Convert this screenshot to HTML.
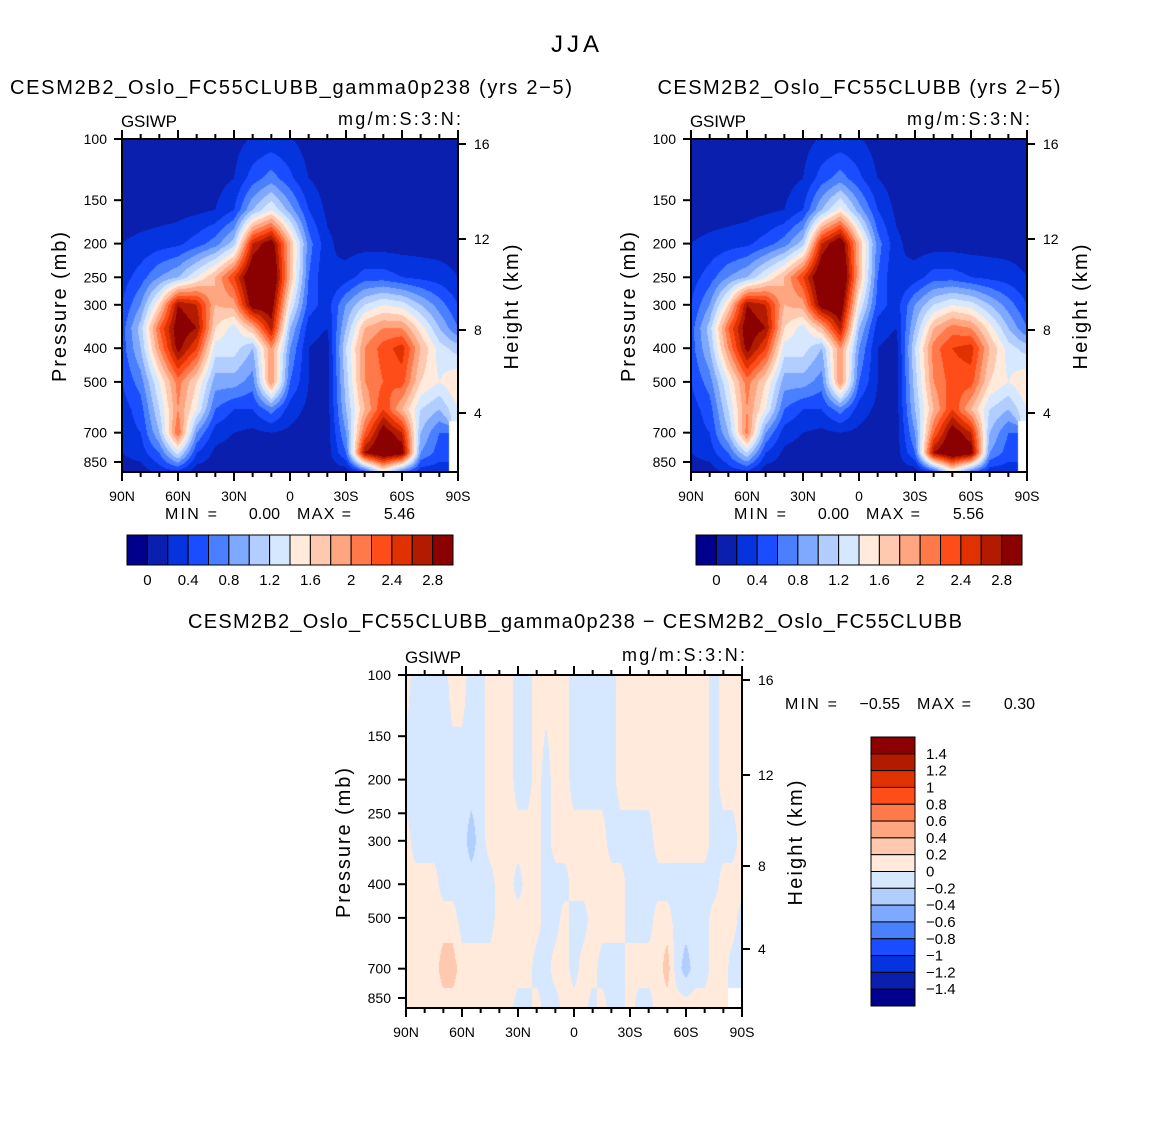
<!DOCTYPE html>
<html><head><meta charset="utf-8">
<style>
html,body{margin:0;padding:0;background:#fff;}
#root{position:relative;width:1150px;height:1148px;overflow:hidden;font-family:"Liberation Sans",sans-serif;}
canvas{position:absolute;}
svg{position:absolute;left:0;top:0;}
text{font-family:"Liberation Sans",sans-serif;fill:#000;}
</style></head>
<body>
<div id="root">
<canvas id="cA" width="336" height="333" style="left:122px;top:139px"></canvas>
<canvas id="cB" width="336" height="333" style="left:691px;top:139px"></canvas>
<canvas id="cD" width="336" height="333" style="left:406px;top:675px"></canvas>
<svg id="ov" width="1150" height="1148"></svg>
</div>
<script>
// ---- data ----
const lats = [90,80,70,60,50,40,30,20,10,0,-10,-20,-30,-40,-50,-60,-70,-80,-90];
const pLevels = [100,130,160,200,250,300,350,400,500,600,700,800,900];
const fieldA = [
[0.1,0.1,0.1,0.1,0.1,0.1,0.12,0.22,0.25,0.22,0.1,0.1,0.1,0.1,0.1,0.1,0.1,0.1,0.1],
[0.1,0.1,0.1,0.1,0.1,0.12,0.2,0.5,0.7,0.45,0.2,0.1,0.1,0.1,0.1,0.1,0.1,0.1,0.1],
[0.1,0.1,0.1,0.12,0.15,0.2,0.4,1.0,1.4,0.9,0.4,0.15,0.1,0.1,0.1,0.1,0.1,0.1,0.1],
[0.2,0.25,0.3,0.35,0.5,0.7,1.1,2.6,3.0,1.8,0.7,0.25,0.1,0.1,0.1,0.1,0.1,0.1,0.1],
[0.3,0.5,0.8,1.0,1.4,1.8,2.4,3.2,3.3,1.8,0.6,0.2,0.3,0.5,0.5,0.4,0.35,0.3,0.2],
[0.4,0.8,1.6,2.8,2.6,1.8,1.9,3.0,3.0,1.4,0.5,0.3,0.8,1.2,1.4,1.3,1.0,0.7,0.4],
[0.5,1.1,2.2,3.0,2.8,1.6,1.3,1.8,2.7,1.0,0.3,0.2,1.0,1.8,2.0,2.0,1.5,1.0,0.6],
[0.5,1.0,2.0,2.9,2.4,1.3,1.3,1.0,2.0,0.8,0.2,0.1,1.2,2.0,2.3,2.5,1.8,1.3,1.1],
[0.4,0.7,1.4,2.1,1.6,0.9,0.9,0.7,2.0,0.6,0.2,0.1,1.1,2.0,2.2,2.3,1.6,1.4,1.6],
[0.3,0.5,1.2,2.0,1.4,0.6,0.4,0.4,0.7,0.3,0.15,0.1,1.0,1.8,2.4,1.8,1.2,1.0,1.4],
[0.3,0.4,1.0,2.2,0.8,0.3,0.2,0.15,0.2,0.15,0.1,0.1,0.8,2.2,3.0,2.6,1.0,0.6,null],
[0.2,0.3,0.6,1.3,0.4,0.15,0.1,0.1,0.1,0.1,0.1,0.1,0.6,2.8,3.2,3.0,0.8,0.5,null],
[0.1,0.1,0.3,0.4,0.1,0.1,0.1,0.1,0.1,0.1,0.1,0.1,0.1,0.6,1.5,0.8,0.3,0.3,null]
];
const fieldB = [
[0.1,0.1,0.1,0.1,0.1,0.1,0.12,0.22,0.25,0.22,0.1,0.1,0.1,0.1,0.1,0.1,0.1,0.1,0.1],
[0.1,0.1,0.1,0.1,0.1,0.12,0.2,0.5,0.7,0.45,0.2,0.1,0.1,0.1,0.1,0.1,0.1,0.1,0.1],
[0.1,0.1,0.1,0.12,0.15,0.2,0.4,1.0,1.5,0.9,0.4,0.15,0.1,0.1,0.1,0.1,0.1,0.1,0.1],
[0.2,0.25,0.3,0.35,0.5,0.7,1.1,2.6,3.1,1.8,0.7,0.25,0.1,0.1,0.1,0.1,0.1,0.1,0.1],
[0.3,0.5,0.8,1.0,1.4,1.8,2.4,3.2,3.4,1.8,0.6,0.2,0.3,0.5,0.5,0.4,0.35,0.3,0.2],
[0.4,0.8,1.6,2.8,2.6,1.8,1.9,3.0,3.1,1.4,0.5,0.3,0.8,1.2,1.4,1.3,1.0,0.7,0.4],
[0.5,1.1,2.2,3.0,2.8,1.6,1.3,1.8,2.7,1.0,0.3,0.2,1.0,1.8,2.1,2.0,1.5,1.0,0.6],
[0.5,1.0,2.0,2.9,2.4,1.3,1.3,1.0,2.0,0.8,0.2,0.1,1.2,2.1,2.4,2.5,1.8,1.3,1.1],
[0.4,0.7,1.4,2.1,1.6,0.9,0.9,0.7,2.0,0.6,0.2,0.1,1.1,2.0,2.3,2.3,1.6,1.4,1.6],
[0.3,0.5,1.2,2.0,1.4,0.6,0.4,0.4,0.7,0.3,0.15,0.1,1.0,1.8,2.4,1.8,1.2,1.0,1.4],
[0.3,0.4,1.0,2.1,0.8,0.3,0.2,0.15,0.2,0.15,0.1,0.1,0.8,2.2,3.0,2.6,1.0,0.6,null],
[0.2,0.3,0.6,1.2,0.4,0.15,0.1,0.1,0.1,0.1,0.1,0.1,0.6,2.8,3.2,3.0,0.8,0.5,null],
[0.1,0.1,0.3,0.4,0.1,0.1,0.1,0.1,0.1,0.1,0.1,0.1,0.1,0.6,1.5,0.8,0.3,0.3,null]
];
const diffLats = Array.from({length:37},(_, i)=>90-5*i);
const diffLevels = [100,200,300,400,500,700,900];
const P=0.1,B=-0.1,Pp=0.3,Bm=-0.3,N=null;
const fieldD = [
[P,B,B,B,B,P,P,B,B,P,P,P,B,B,P,P,P,P,B,B,B,B,B,P,P,P,P,P,P,P,P,P,P,B,P,P,P],
[B,B,B,B,B,B,B,B,B,P,P,P,B,B,P,B,P,P,B,B,B,B,B,P,P,P,P,P,P,P,P,P,P,B,P,P,P],
[P,B,B,B,B,B,B,Bm,B,P,P,P,P,P,P,B,P,P,P,P,P,P,B,B,B,B,B,P,P,P,P,P,P,B,B,B,P],
[P,P,P,P,B,B,B,B,B,B,P,P,B,P,P,B,B,B,P,P,P,P,P,P,B,B,B,B,B,B,B,B,B,B,P,P,P],
[P,P,P,P,P,P,B,B,B,B,P,P,P,P,P,B,B,P,B,B,P,P,P,P,B,B,B,P,P,B,B,B,B,P,P,P,B],
[P,P,P,P,Pp,Pp,P,P,P,P,P,P,P,P,B,B,P,P,B,P,P,B,B,B,P,P,P,P,Pp,B,Bm,B,B,P,P,B,B],
[P,P,P,P,P,P,P,P,P,P,P,P,B,B,P,B,B,P,P,P,B,P,B,B,P,B,B,P,P,P,P,P,P,P,P,N,N]
];
const mainColors = ['#00008c','#0a1fae','#0534de','#1a4dff','#4a80ff','#7fa8ff','#b2cdff','#d6e8ff','#ffeadb','#ffc9b0','#ffa680','#ff794b','#ff4d1a','#e03200','#b31b00','#8b0000'];
const mainTicks = ['0','0.4','0.8','1.2','1.6','2','2.4','2.8'];
const diffTicks = ['1.4','1.2','1','0.8','0.6','0.4','0.2','0','\u22120.2','\u22120.4','\u22120.6','\u22120.8','\u22121','\u22121.2','\u22121.4'];
const presTicks = [100,150,200,250,300,400,500,700,850];
const heightTicks = ['16','12','8','4'];
const latTickLabels = ['90N','60N','30N','0','30S','60S','90S'];

// ---- helpers ----
const K = 347.5;
function yOfP(p){ return (Math.log10(p)-2)*K; }
function colorIndexMain(v){ return Math.max(0,Math.min(15,Math.floor(v/0.2)+1)); }
function colorIndexDiff(v){ return Math.max(0,Math.min(15,Math.floor((v+1.6)/0.2+1e-9))); }
function hex(c){return [parseInt(c.substr(1,2),16),parseInt(c.substr(3,2),16),parseInt(c.substr(5,2),16)];}
const rgb = mainColors.map(hex);

function drawField(id, field, levels, ncol, idxFn){
  const cv=document.getElementById(id), ctx=cv.getContext('2d');
  const W=cv.width,H=cv.height, img=ctx.createImageData(W,H);
  const ly=levels.map(yOfP);
  for(let y=0;y<H;y++){
    let r=0; while(r<ly.length-2 && y+0.5>ly[r+1]) r++;
    let t=(y+0.5-ly[r])/(ly[r+1]-ly[r]); t=Math.max(0,Math.min(1,t));
    for(let x=0;x<W;x++){
      let fx=(x+0.5)/W*(ncol-1); let c=Math.min(ncol-2,Math.floor(fx)); let s=fx-c;
      const corners=[[field[r][c],(1-s)*(1-t)],[field[r][c+1],s*(1-t)],[field[r+1][c],(1-s)*t],[field[r+1][c+1],s*t]];
      let best=corners[0]; for(const q of corners) if(q[1]>best[1]) best=q;
      let o=(y*W+x)*4;
      if(best[0]===null){img.data[o]=255;img.data[o+1]=255;img.data[o+2]=255;img.data[o+3]=255;continue;}
      let v=0; for(const q of corners) v+=(q[0]===null?best[0]:q[0])*q[1];
      const col=rgb[idxFn(v)];
      img.data[o]=col[0];img.data[o+1]=col[1];img.data[o+2]=col[2];img.data[o+3]=255;
    }
  }
  ctx.putImageData(img,0,0);
}
drawField('cA',fieldA,pLevels,lats.length,colorIndexMain);
drawField('cB',fieldB,pLevels,lats.length,colorIndexMain);
drawField('cD',fieldD,diffLevels,diffLats.length,colorIndexDiff);

// ---- overlay ----
const NS='http://www.w3.org/2000/svg', ov=document.getElementById('ov');
function el(tag,attrs,parent){const e=document.createElementNS(NS,tag);for(const k in attrs)e.setAttribute(k,attrs[k]);(parent||ov).appendChild(e);return e;}
function txt(x,y,s,size,anchor,name,parent,len){const e=el('text',{x:x,y:y,'font-size':size,'text-anchor':anchor||'start'},parent);e.textContent=s;
if(len){e.setAttribute('textLength',len);e.setAttribute('lengthAdjust','spacing');}


return e;}

txt(575,52,'JJA',24,'middle','figure-title',null,48);
const heightY=[144,239,330,413];
function axes(x0,y0,title,subTitleY,subX,tlen,name){
  const g=el('g',{});
  
  
  const W=336,H=333;
  if(title) txt(subX,subTitleY,title,20,'middle','panel-title',g,tlen);
  txt(x0-1,y0-12,'GSIWP',17,'start','variable-label',g,56);
  txt(x0+W+3,y0-14,'mg/m:S:3:N:',18,'end','units-label',g,123);
  el('rect',{x:x0,y:y0,width:W,height:H,fill:'none',stroke:'#000','stroke-width':2},g);
  for(let i=0;i<=18;i++){
    const x=x0+i*W/18, major=i%3===0, L=major?9:5;
    el('line',{x1:x,y1:y0+H,x2:x,y2:y0+H+L,stroke:'#000','stroke-width':2},g);
    el('line',{x1:x,y1:y0,x2:x,y2:y0-L,stroke:'#000','stroke-width':2},g);
    if(major) txt(x,y0+H+29,latTickLabels[i/3],14,'middle','lat-tick-label',g);
  }
  presTicks.forEach(p=>{const y=y0+yOfP(p);
    el('line',{x1:x0,y1:y,x2:x0-8,y2:y,stroke:'#000','stroke-width':2},g);
    txt(x0-15,y+5,String(p),14,'end','pressure-tick-label',g);});
  heightTicks.forEach((h,i)=>{const y=y0+(heightY[i]-139);
    el('line',{x1:x0+W,y1:y,x2:x0+W+8,y2:y,stroke:'#000','stroke-width':2},g);
    txt(x0+W+16,y+5,h,14,'start','height-tick-label',g);});
  const a=txt(0,0,'Pressure (mb)',20,'middle','y-axis-title',g,150);
  a.setAttribute('transform',`translate(${x0-56},${y0+168}) rotate(-90)`);
  const b=txt(0,0,'Height (km)',20,'middle','y2-axis-title',g,125);
  b.setAttribute('transform',`translate(${x0+W+60},${y0+168}) rotate(-90)`);
}
axes(122,139,'CESM2B2_Oslo_FC55CLUBB_gamma0p238 (yrs 2\u22125)',94,291,562,'panel-gamma');
axes(691,139,'CESM2B2_Oslo_FC55CLUBB (yrs 2\u22125)',94,859,403,'panel-control');
axes(406,675,'CESM2B2_Oslo_FC55CLUBB_gamma0p238 \u2212 CESM2B2_Oslo_FC55CLUBB',628,575,774,'panel-difference');

function minmax(x0,y,mn,mx,name){
  const g=el('g',{});
  
  
  txt(x0,y,'MIN =',16,'start','min-label',g,52);
  txt(x0+115,y,mn,16,'end','min-value',g);
  txt(x0+132,y,'MAX =',16,'start','max-label',g,54);
  txt(x0+250,y,mx,16,'end','max-value',g);
}
minmax(165,519,'0.00','5.46','minmax-gamma');
minmax(734,519,'0.00','5.56','minmax-control');
minmax(785,709,'\u22120.55','0.30','minmax-difference');

function hbar(x0,name){
  const g=el('g',{});
  
  
  const w=326/16;
  mainColors.forEach((c,i)=>{el('rect',{x:x0+i*w,y:535,width:w,height:30,fill:c,stroke:'#000','stroke-width':1},g);});
  mainTicks.forEach((s,i)=>{txt(x0+w*(1+2*i),585,s,15,'middle','colorbar-label',g);});
}
hbar(127,'colorbar-gamma'); hbar(696,'colorbar-control');
(function(){
  const g=el('g',{});
  
  
  const h=269/16;
  mainColors.slice().reverse().forEach((c,i)=>{el('rect',{x:871,y:737+i*h,width:44,height:h,fill:c,stroke:'#000','stroke-width':1},g);});
  diffTicks.forEach((s,i)=>{txt(926,737+h*(i+1)+5,s,15,'start','colorbar-label',g);});
})();
</script>
</body></html>
